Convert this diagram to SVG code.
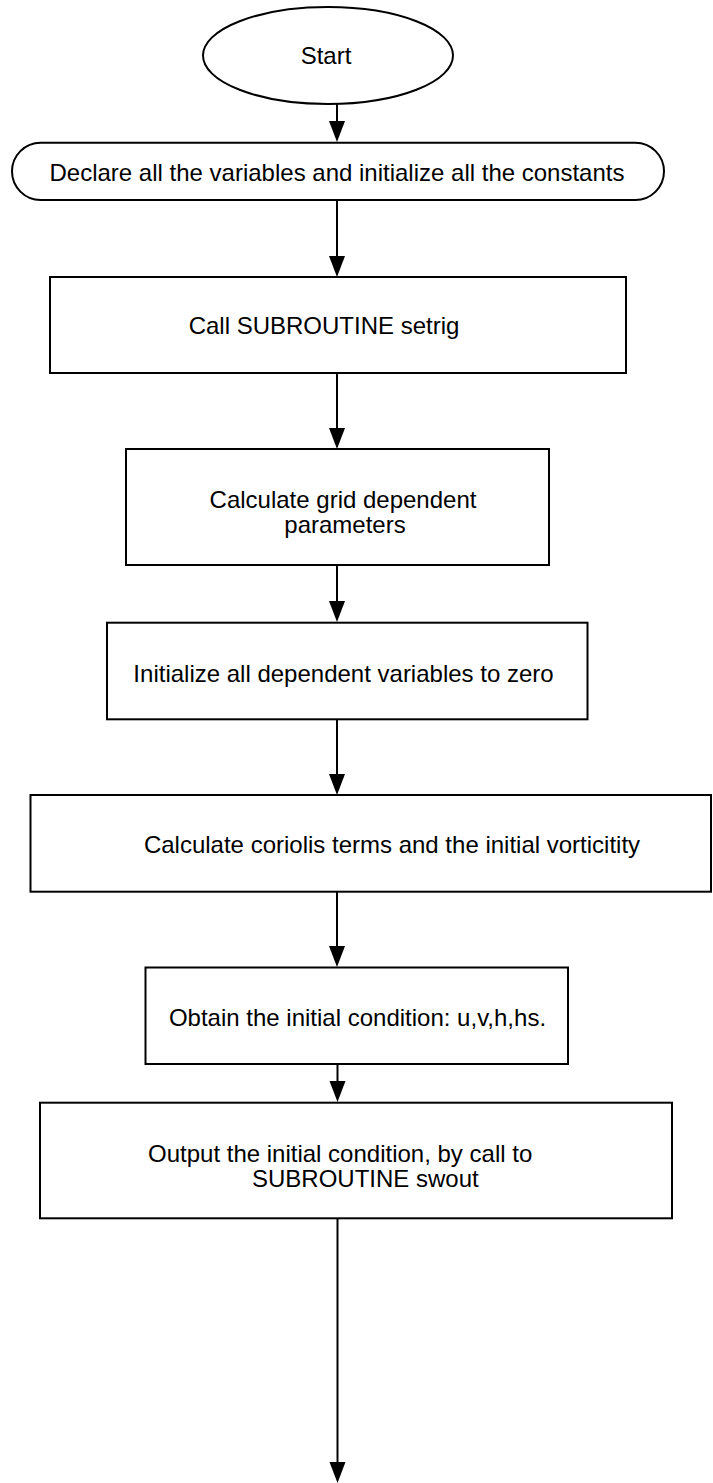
<svg xmlns="http://www.w3.org/2000/svg" width="713" height="1483" viewBox="0 0 713 1483">
<style>
.shape{fill:#fff;stroke:#000;stroke-width:2}
.lbl{font-family:"Liberation Sans",Arial,Helvetica,sans-serif;font-size:24px;fill:#000}
.mid{text-anchor:middle}
.conn{stroke:#000;stroke-width:2;fill:none;marker-end:url(#arrow)}
</style>
<defs>
<marker id="arrow" markerUnits="userSpaceOnUse" markerWidth="22" markerHeight="18" viewBox="0 0 22 18" refX="11" refY="9" orient="auto">
<path d="M0,1 L21,9 L0,17 z" fill="#000"/>
</marker>
</defs>
<rect width="713" height="1483" fill="#fff"/>
<g id="connectors">
<line class="conn" x1="337" y1="104" x2="337" y2="132"/>
<line class="conn" x1="337" y1="200" x2="337" y2="267"/>
<line class="conn" x1="337" y1="373" x2="337" y2="439"/>
<line class="conn" x1="337" y1="565" x2="337" y2="612"/>
<line class="conn" x1="337" y1="719" x2="337" y2="785"/>
<line class="conn" x1="337" y1="892" x2="337" y2="957"/>
<line class="conn" x1="337.5" y1="1064" x2="337.5" y2="1092"/>
<line class="conn" x1="337.5" y1="1218" x2="337.5" y2="1473"/>
</g>
<g id="start">
<ellipse class="shape" cx="328" cy="55.5" rx="125" ry="48.5"/>
<text class="lbl mid" x="326" y="64">Start</text>
</g>
<g id="declare">
<rect class="shape" x="12" y="142.7" width="652" height="57.3" rx="28.65" ry="28.65"/>
<text class="lbl mid" x="337" y="181">Declare all the variables and initialize all the constants</text>
</g>
<g id="setrig">
<rect class="shape" x="50" y="277" width="576" height="96"/>
<text class="lbl mid" x="324" y="334">Call SUBROUTINE setrig</text>
</g>
<g id="grid">
<rect class="shape" x="126" y="449" width="423" height="116"/>
<text class="lbl mid" x="343" y="508">Calculate grid dependent</text>
<text class="lbl mid" x="345" y="533">parameters</text>
</g>
<g id="init">
<rect class="shape" x="107" y="622.7" width="480.5" height="96.6"/>
<text class="lbl mid" x="343.5" y="682">Initialize all dependent variables to zero</text>
</g>
<g id="coriolis">
<rect class="shape" x="30.5" y="795" width="680.5" height="96.7"/>
<text class="lbl mid" x="392" y="853">Calculate coriolis terms and the initial vorticitity</text>
</g>
<g id="obtain">
<rect class="shape" x="145.5" y="967.5" width="422.5" height="96.5"/>
<text class="lbl mid" x="357.5" y="1026">Obtain the initial condition: u,v,h,hs.</text>
</g>
<g id="output">
<rect class="shape" x="40" y="1102.7" width="632" height="115.6"/>
<text class="lbl" x="148" y="1162">Output the initial condition, by call to</text>
<text class="lbl" x="252" y="1187">SUBROUTINE swout</text>
</g>
</svg>
